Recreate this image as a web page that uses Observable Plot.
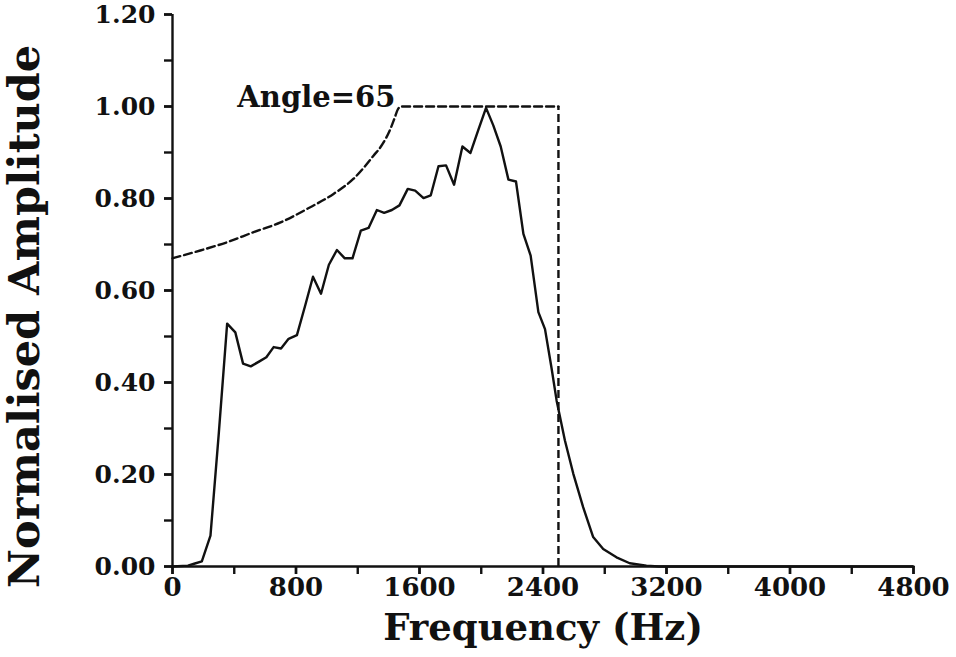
<!DOCTYPE html>
<html><head><meta charset="utf-8">
<script src="https://cdn.jsdelivr.net/npm/d3@7"></script>
<script src="https://cdn.jsdelivr.net/npm/@observablehq/plot@0.6"></script>
<style>body{margin:0;background:#fff}</style>
</head><body><div id="chart"></div>
<script>
// Measured spectrum (solid line)
const freqHz = [0, 100, 140, 190, 246, 300, 354, 407, 457, 507, 563, 608, 655, 703, 752, 806, 860, 910, 962, 1013, 1065, 1116, 1166, 1220, 1270, 1324, 1371, 1421, 1470, 1524, 1572, 1626, 1673, 1723, 1772, 1824, 1878, 1930, 1980, 2031, 2078, 2126, 2176, 2225, 2273, 2320, 2370, 2413, 2456, 2488, 2542, 2596, 2660, 2725, 2790, 2876, 2962, 3070, 3150, 4800];
const amplitude = [0, 0.002, 0.006, 0.011, 0.067, 0.29, 0.528, 0.509, 0.441, 0.435, 0.446, 0.455, 0.477, 0.474, 0.495, 0.503, 0.568, 0.630, 0.593, 0.656, 0.688, 0.670, 0.670, 0.730, 0.736, 0.775, 0.769, 0.775, 0.785, 0.821, 0.817, 0.801, 0.807, 0.870, 0.872, 0.830, 0.913, 0.899, 0.948, 0.997, 0.959, 0.913, 0.841, 0.837, 0.723, 0.676, 0.553, 0.516, 0.43, 0.361, 0.274, 0.202, 0.129, 0.064, 0.038, 0.020, 0.007, 0.002, 0, 0];
// Model response for Angle=65 (dashed line)
const modelFreqHz = [0, 180, 354, 526, 700, 870, 1043, 1173, 1302, 1360, 1410, 1440, 1460, 1480, 2500];
const modelAmplitude = [0.670, 0.687, 0.705, 0.727, 0.748, 0.777, 0.810, 0.843, 0.893, 0.918, 0.950, 0.976, 0.994, 1.0, 1.0];
const cutoffHz = 2500;
const cutoffTop = 1.0;
// Ticks
const xTickLabels = [0, 800, 1600, 2400, 3200, 4000, 4800];
const xMinorTicks = [0, 400, 800, 1200, 1600, 2000, 2400, 2800, 3200, 3600, 4000, 4400, 4800];
const yTickLabels = [0, 0.2, 0.4, 0.6, 0.8, 1.0, 1.2];
const yMinorTicks = [0, 0.1, 0.2, 0.3, 0.4, 0.5, 0.6, 0.7, 0.8, 0.9, 1.0, 1.1, 1.2];
const xTitle = "Frequency (Hz)";
const yTitle = "Normalised Amplitude";
const annotation = "Angle=65";
const annotationFreq = 420;
const annotationAmp = 1.0;

const spectrum = freqHz.map((f, i) => ({f, a: amplitude[i]}));
const model = modelFreqHz.map((f, i) => ({f, a: modelAmplitude[i]}));
const ink = "#111";
const sw = 2.4;

const chart = Plot.plot({
  width: 956, height: 657,
  marginLeft: 172, marginRight: 43, marginTop: 14, marginBottom: 91,
  style: {fontFamily: "'DejaVu Serif', serif", fontWeight: "bold", background: "#fff", color: ink, overflow: "visible"},
  x: {domain: [0, 4800]},
  y: {domain: [0, 1.2]},
  marks: [
    Plot.axisX({ticks: xMinorTicks, tickSize: 8, tickFormat: () => "", label: null, strokeWidth: sw}),
    Plot.axisX({ticks: xTickLabels, tickSize: 8, tickPadding: 3, tickFormat: d => String(d), label: null, fontSize: 26, strokeWidth: sw}),
    Plot.axisY({ticks: yMinorTicks, tickSize: 8, tickFormat: () => "", label: null, strokeWidth: sw}),
    Plot.axisY({ticks: yTickLabels, tickSize: 8, tickPadding: 9, tickFormat: d3.format(".2f"), label: null, fontSize: 25, strokeWidth: sw}),
    Plot.ruleY([0], {stroke: ink, strokeWidth: sw}),
    Plot.ruleX([0], {y1: 0, y2: 1.2, stroke: ink, strokeWidth: sw}),
    Plot.line(model, {x: "f", y: "a", curve: "monotone-x", stroke: ink, strokeWidth: sw, strokeDasharray: "8,4"}),
    Plot.ruleX([cutoffHz], {y1: 0, y2: cutoffTop, stroke: ink, strokeWidth: sw, strokeDasharray: "8,4"}),
    Plot.line(spectrum, {x: "f", y: "a", stroke: ink, strokeWidth: sw}),
    Plot.text([annotation], {x: annotationFreq, y: annotationAmp, text: d => d, textAnchor: "start", lineAnchor: "bottom", fontSize: 29, fill: ink}),
    Plot.text([xTitle], {frameAnchor: "bottom", text: d => d, textAnchor: "middle", dy: 73, lineAnchor: "bottom", fontSize: 37, fill: ink}),
    Plot.text([yTitle], {frameAnchor: "left", text: d => d, textAnchor: "middle", dx: -147, dy: 26, rotate: -90, lineAnchor: "middle", fontSize: 43, fill: ink})
  ]
});
document.getElementById("chart").appendChild(chart);
</script>
</body></html>
